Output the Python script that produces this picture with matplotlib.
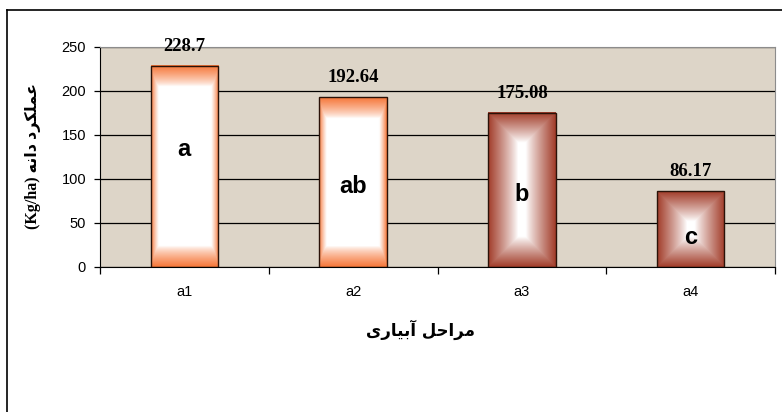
import numpy as np
import matplotlib
matplotlib.use('Agg')
import matplotlib.pyplot as plt
from matplotlib.lines import Line2D

# data
stages = ['a1', 'a2', 'a3', 'a4']
grain_yield = [228.7, 192.64, 175.08, 86.17]
value_text = ['228.7', '192.64', '175.08', '86.17']
groups = ['a', 'ab', 'b', 'c']
yticks = [0, 50, 100, 150, 200, 250]

# layout / style
group_y = [133, 91, 82, 34]
fill_kind = ['edge', 'edge', 'center', 'center']
fill_color = ['#F67638', '#F67638', '#A13B28', '#A13B28']
bg_color = '#DDD5C8'
xlabel_fa = 'مراحل آبیاری'
ylabel_fa = 'عملکرد دانه'


def shape_fa(text):
    # minimal Persian shaping with presentation forms, returned in visual order
    forms = {
        'ا': (0xFE8D, 0xFE8E), 'آ': (0xFE81, 0xFE82),
        'د': (0xFEA9, 0xFEAA), 'ر': (0xFEAD, 0xFEAE),
        'ب': (0xFE8F, 0xFE90, 0xFE91, 0xFE92),
        'ح': (0xFEA1, 0xFEA2, 0xFEA3, 0xFEA4),
        'ع': (0xFEC9, 0xFECA, 0xFECB, 0xFECC),
        'ک': (0xFED9, 0xFEDA, 0xFEDB, 0xFEDC),
        'ل': (0xFEDD, 0xFEDE, 0xFEDF, 0xFEE0),
        'م': (0xFEE1, 0xFEE2, 0xFEE3, 0xFEE4),
        'ن': (0xFEE5, 0xFEE6, 0xFEE7, 0xFEE8),
        'ه': (0xFEE9, 0xFEEA, 0xFEEB, 0xFEEC),
        'ی': (0xFEEF, 0xFEF0, 0xFEF3, 0xFEF4),
    }
    right_only = set('اآدذرزو')
    out = []
    for i, ch in enumerate(text):
        if ch not in forms:
            out.append(ch)
            continue
        prev = text[i - 1] if i > 0 else ''
        nxt = text[i + 1] if i + 1 < len(text) else ''
        jp = prev in forms and prev not in right_only
        jn = ch not in right_only and nxt in forms
        f = forms[ch]
        if ch in right_only:
            out.append(chr(f[1] if jp else f[0]))
        elif jp and jn:
            out.append(chr(f[3]))
        elif jp:
            out.append(chr(f[1]))
        elif jn:
            out.append(chr(f[2]))
        else:
            out.append(chr(f[0]))
    return ''.join(reversed(out))


fig = plt.figure(figsize=(7.82, 4.12), dpi=100)
ax = fig.add_axes([100/782, 145/412, 675/782, 220/412])
ax.set_facecolor(bg_color)

x = np.arange(len(stages))
bars = ax.bar(x, grain_yield, width=0.4, color='none', edgecolor='#2A1208',
              linewidth=1.0, zorder=3)
ax.set_xlim(-0.5, len(stages) - 0.5)
ax.set_ylim(0, 250)

# gradient fills
fig.canvas.draw()
for b, kind, col in zip(bars, fill_kind, fill_color):
    x0, y0 = b.get_x(), b.get_y()
    x1, y1 = x0 + b.get_width(), y0 + b.get_height()
    p0 = ax.transData.transform((x0, y0))
    p1 = ax.transData.transform((x1, y1))
    nx = max(int(round(p1[0] - p0[0])), 2)
    ny = max(int(round(p1[1] - p0[1])), 2)
    xx, yy = np.meshgrid(np.arange(nx) + 0.5, np.arange(ny) + 0.5)
    dx = np.minimum(xx, nx - xx)
    dy = np.minimum(yy, ny - yy)
    if kind == 'edge':
        fy = np.clip(1 - dy / 21.0, 0, 1) ** 0.75
        fx = np.clip(1 - dx / 8.0, 0, 1) ** 1.2
        f = np.maximum(fx, fy)
    else:
        d = np.minimum(dx, dy)
        f = np.clip(1 - d / (0.9 * d.max()), 0, 1) ** 0.9
    rgb = np.array(matplotlib.colors.to_rgb(col))
    img = (1 - f[..., None]) * 1.0 + f[..., None] * rgb
    ax.imshow(img, extent=[x0, x1, y0, y1], origin='lower', aspect='auto',
              interpolation='bilinear', zorder=2)

ax.set_xlim(-0.5, len(stages) - 0.5)
ax.set_ylim(0, 250)

# grid and spines
ax.set_yticks(yticks)
ax.set_yticklabels([str(v) for v in yticks], fontsize=10.5, family='Liberation Sans')
ax.yaxis.grid(True, color='black', linewidth=0.9)
ax.set_axisbelow(True)
ax.set_xticks(np.arange(-0.5, len(stages)), minor=False)
ax.set_xticklabels([])
ax.set_xticks(x, minor=True)
ax.set_xticklabels(stages, minor=True, fontsize=10.5, family='Liberation Sans')
ax.tick_params(axis='x', which='major', length=5, width=0.9, direction='out')
ax.tick_params(axis='x', which='minor', length=0, pad=13)
ax.tick_params(axis='y', length=4, width=0.9, direction='out', pad=6)
ax.spines['left'].set_color('black')
ax.spines['bottom'].set_color('black')
ax.spines['top'].set_color('#8C8C8C')
ax.spines['right'].set_color('#8C8C8C')

# value labels and group letters
for xi, v, t in zip(x, grain_yield, value_text):
    ax.annotate(t, (xi, v), xytext=(0, 8), textcoords='offset points',
                ha='center', va='bottom', fontsize=13.5, fontweight='bold',
                family='Liberation Serif', zorder=5)
for xi, g, gy in zip(x, groups, group_y):
    ax.text(xi, gy, g, ha='center', va='center', fontsize=17,
            fontweight='bold', family='Liberation Sans', zorder=5)

# axis titles
fig.text(421/782, 1 - 330/412, shape_fa(xlabel_fa), ha='center', va='center',
         fontsize=12, fontweight='bold', family=['DejaVu Sans'])
fig.text(33/782, 1 - 156/412, '(Kg/ha) ' + shape_fa(ylabel_fa), rotation=90,
         ha='center', va='center', fontsize=11.5, fontweight='bold',
         family=['Liberation Serif', 'DejaVu Sans'])

# outer frame (cropped at right and bottom)
fig.add_artist(Line2D([7/782, 1], [1 - 10/412, 1 - 10/412], color='black',
                      linewidth=1.2, transform=fig.transFigure))
fig.add_artist(Line2D([7/782, 7/782], [0, 1 - 10/412], color='black',
                      linewidth=1.2, transform=fig.transFigure))

fig.savefig('out.png', dpi=100)
